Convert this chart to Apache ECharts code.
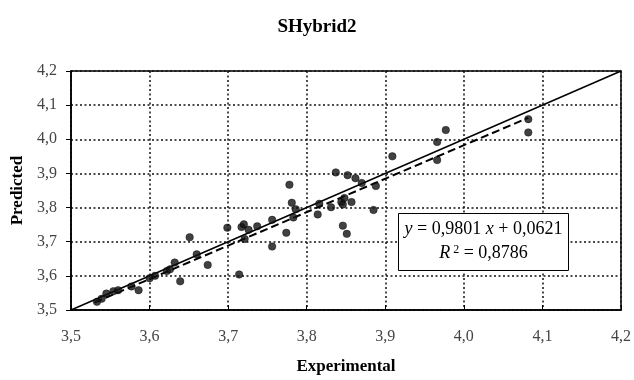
<!DOCTYPE html>
<html>
<head>
<meta charset="utf-8">
<script src="https://cdn.jsdelivr.net/npm/echarts@6/dist/echarts.min.js"></script>
<style>html,body{margin:0;padding:0;background:#fff}#c{width:634px;height:380px}</style>
</head>
<body>
<div id="c"></div>
<script>
const titleText = 'SHybrid2';
const xName = 'Experimental';
const yName = 'Predicted';
const axisMin = 3.5, axisMax = 4.2, axisStep = 0.1;

const expX = [3.533,3.539,3.545,3.554,3.560,3.577,3.586,3.600,3.607,3.622,3.626,3.632,3.639,3.651,3.660,3.674,3.699,3.714,3.717,3.720,3.721,3.726,3.737,3.756,3.756,3.774,3.778,3.781,3.783,3.786,3.814,3.816,3.831,3.837,3.844,3.846,3.848,3.857,3.846,3.851,3.852,3.862,3.870,3.888,3.885,3.909,3.966,3.977,3.966,4.082,4.082];
const predY = [3.524,3.533,3.548,3.555,3.558,3.569,3.558,3.593,3.600,3.614,3.619,3.639,3.584,3.713,3.663,3.632,3.741,3.604,3.743,3.751,3.708,3.735,3.745,3.764,3.686,3.726,3.867,3.814,3.771,3.795,3.780,3.811,3.801,3.903,3.816,3.809,3.828,3.816,3.747,3.723,3.895,3.886,3.872,3.863,3.793,3.950,3.992,4.027,3.939,4.059,4.020];

const idealX = [3.5, 4.2];
const idealY = [3.5, 4.2];
const fitX = [3.530, 4.082];
const fitY = [3.522, 4.063];

const eqSlope = '0,9801';
const eqIntercept = '0,0621';
const eqR2 = '0,8786';

const fmt = v => v.toFixed(1).replace('.', ',');
const FONT = '"Liberation Serif", "DejaVu Serif", serif';

const chart = echarts.init(document.getElementById('c'));
const gridLine = { show: true, lineStyle: { color: '#111', width: 1.5, type: [2, 2.5] } };

chart.setOption({
  animation: false,
  backgroundColor: '#fff',
  title: {
    text: titleText, left: 'center', top: 13,
    textStyle: { fontFamily: FONT, fontWeight: 'bold', fontSize: 19, color: '#000' }
  },
  grid: { left: 71, right: 12, top: 71, bottom: 66, show: true, borderColor: '#000', borderWidth: 1.5 },
  xAxis: {
    type: 'value', min: axisMin, max: axisMax, interval: axisStep,
    name: xName, nameLocation: 'middle', nameGap: 48,
    nameTextStyle: { fontFamily: FONT, fontWeight: 'bold', fontSize: 17, color: '#000' },
    axisLine: { show: true, lineStyle: { color: '#000', width: 1.5 } },
    axisTick: { show: true, inside: true, length: 5, lineStyle: { color: '#000' } },
    axisLabel: { formatter: fmt, fontFamily: FONT, fontSize: 16, color: '#444', margin: 19 },
    splitLine: gridLine
  },
  yAxis: {
    type: 'value', min: axisMin, max: axisMax, interval: axisStep,
    name: yName, nameLocation: 'middle', nameGap: 45, nameRotate: 90,
    nameTextStyle: { fontFamily: FONT, fontWeight: 'bold', fontSize: 17, color: '#000' },
    axisLine: { show: true, lineStyle: { color: '#000', width: 1.5 } },
    axisTick: { show: true, length: 5, lineStyle: { color: '#000' } },
    axisLabel: { formatter: fmt, fontFamily: FONT, fontSize: 16, color: '#444', margin: 14 },
    splitLine: gridLine
  },
  series: [
    {
      type: 'line', data: idealX.map((x, i) => [x, idealY[i]]), symbol: 'none',
      lineStyle: { color: '#000', width: 1.5 }, z: 3
    },
    {
      type: 'line', data: fitX.map((x, i) => [x, fitY[i]]), symbol: 'none',
      lineStyle: { color: '#000', width: 2, type: [8, 4] }, z: 3
    },
    {
      type: 'scatter', data: expX.map((x, i) => [x, predY[i]]), symbol: 'circle', symbolSize: 7.5,
      itemStyle: { color: '#111', borderColor: '#000', borderWidth: 0.5 }, z: 4
    }
  ],
  graphic: [
    {
      type: 'group', left: 398, top: 213, z: 100,
      children: [
        { type: 'rect', z: 100, shape: { x: 0, y: 0, width: 170, height: 57 },
          style: { fill: '#fff', stroke: '#000', lineWidth: 1 } },
        { type: 'text', z: 101, x: 85, y: 7,
          style: {
            text: '{i|y} = ' + eqSlope + ' {i|x} + ' + eqIntercept,
            rich: { i: { fontStyle: 'italic', fontFamily: FONT, fontSize: 18 } },
            font: '18px ' + FONT, fill: '#000', align: 'center'
          } },
        { type: 'text', z: 101, x: 85, y: 30,
          style: {
            text: '{i|R}{s|2} = ' + eqR2,
            rich: {
              i: { fontStyle: 'italic', fontFamily: FONT, fontSize: 18 },
              s: { fontFamily: FONT, fontSize: 12, verticalAlign: 'top', padding: [0, 0, 8, 3] }
            },
            font: '18px ' + FONT, fill: '#000', align: 'center'
          } }
      ]
    }
  ]
});
</script>
</body>
</html>
